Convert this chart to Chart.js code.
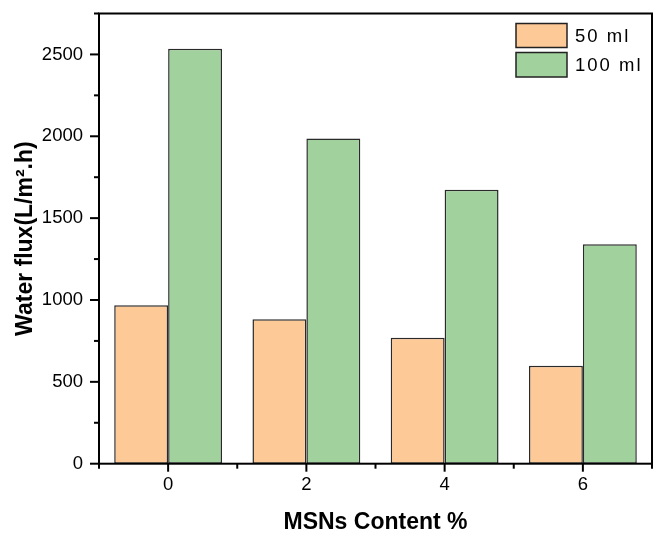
<!DOCTYPE html>
<html>
<head>
<meta charset="utf-8">
<script src="https://cdn.jsdelivr.net/npm/chart.js@4.4.1/dist/chart.umd.min.js"></script>
<style>
  html, body { margin: 0; padding: 0; background: #fff; }
  #wrap { width: 654px; height: 534px; }
</style>
</head>
<body>
<div id="wrap"><canvas id="fluxChart" width="654" height="534"></canvas></div>
<script>
// MSNs content (%) and water flux values
const categories = ['0', '2', '4', '6'];
const flux50 = [968, 883, 769, 598];
const flux100 = [2535, 1987, 1674, 1341];
const yTicks = [0, 500, 1000, 1500, 2000, 2500];
const yMax = 2750;

const FONT = "'Liberation Sans', Arial, sans-serif";

// tick marks, frame and legend drawn on top of the bars
const framePlugin = {
    id: 'frame',
    afterDatasetsDraw(chart) {
        const { ctx, chartArea: a, scales: { x, y } } = chart;
        ctx.save();
        ctx.strokeStyle = '#000';
        ctx.lineWidth = 2;
        const line = (x1, y1, x2, y2) => {
            ctx.beginPath(); ctx.moveTo(x1, y1); ctx.lineTo(x2, y2); ctx.stroke();
        };
        // box around the plot
        ctx.strokeRect(a.left, a.top, a.right - a.left, a.bottom - a.top);

        // y ticks (major every 500, minor in between)
        for (let v = 0; v <= yMax; v += 250) {
            const py = y.getPixelForValue(v);
            const len = v % 500 === 0 ? 9 : 5;
            line(a.left - len, py, a.left, py);
        }
        // x ticks: major at categories, minor at boundaries
        categories.forEach((c, i) => {
            const px = x.getPixelForValue(i);
            line(px, a.bottom, px, a.bottom + 8);
        });
        for (let i = -0.5; i <= categories.length - 0.5; i++) {
            const px = x.getPixelForValue(i);
            line(px, a.bottom, px, a.bottom + 5);
        }

        // legend
        const ds = chart.data.datasets;
        const boxes = [[23.5, 24], [52.5, 24.5]];
        ctx.font = '18.5px ' + FONT;
        ctx.textBaseline = 'middle';
        ctx.letterSpacing = '2px';
        ds.forEach((d, i) => {
            const [by, bh] = boxes[i];
            ctx.fillStyle = d.backgroundColor;
            ctx.fillRect(516, by, 51, bh);
            ctx.lineWidth = 1.5;
            ctx.strokeStyle = '#222';
            ctx.strokeRect(516, by, 51, bh);
            ctx.fillStyle = '#000';
            ctx.fillText(d.label, 575, by + bh / 2 + 1);
        });
        ctx.restore();
    }
};

new Chart(document.getElementById('fluxChart').getContext('2d'), {
    type: 'bar',
    data: {
        labels: categories,
        datasets: [
            {
                label: '50 ml',
                data: flux50,
                backgroundColor: '#fdc997',
                borderColor: '#2a2a2a',
                borderWidth: 1.5,
                borderSkipped: false
            },
            {
                label: '100 ml',
                data: flux100,
                backgroundColor: '#a1d29d',
                borderColor: '#2a2a2a',
                borderWidth: 1.5,
                borderSkipped: false
            }
        ]
    },
    options: {
        responsive: false,
        animation: false,
        events: [],
        layout: { padding: { top: 13.5, right: 2, left: 0, bottom: 0 } },
        categoryPercentage: 0.78,
        barPercentage: 1.0,
        plugins: {
            legend: { display: false },
            tooltip: { enabled: false }
        },
        scales: {
            x: {
                offset: true,
                grid: { display: false },
                border: { display: false },
                ticks: {
                    color: '#000',
                    padding: 2.5,
                    font: { family: FONT, size: 18.5 }
                },
                title: {
                    display: true,
                    text: 'MSNs Content %',
                    color: '#000',
                    padding: 0,
                    font: { family: FONT, size: 23, weight: 'bold', lineHeight: 0.96 }
                },
                afterFit(scale) {
                    scale.height = 70.3;
                    scale.paddingLeft = 0;
                    scale.paddingRight = 0;
                }
            },
            y: {
                min: 0,
                max: yMax,
                grid: { display: false },
                border: { display: false },
                afterBuildTicks(scale) {
                    scale.ticks = yTicks.map(v => ({ value: v }));
                },
                ticks: {
                    color: '#000',
                    padding: 8,
                    font: { family: FONT, size: 18.5 },
                    callback: v => String(v)
                },
                title: {
                    display: true,
                    text: 'Water flux(L/m\u00B2.h)',
                    color: '#000',
                    padding: { top: 14, bottom: 0 },
                    font: { family: FONT, size: 23, weight: 'bold', lineHeight: 1.0 }
                },
                afterFit(scale) {
                    scale.width = 99;
                    scale.paddingTop = 0;
                    scale.paddingBottom = 0;
                }
            }
        }
    },
    plugins: [framePlugin]
});
</script>
</body>
</html>
